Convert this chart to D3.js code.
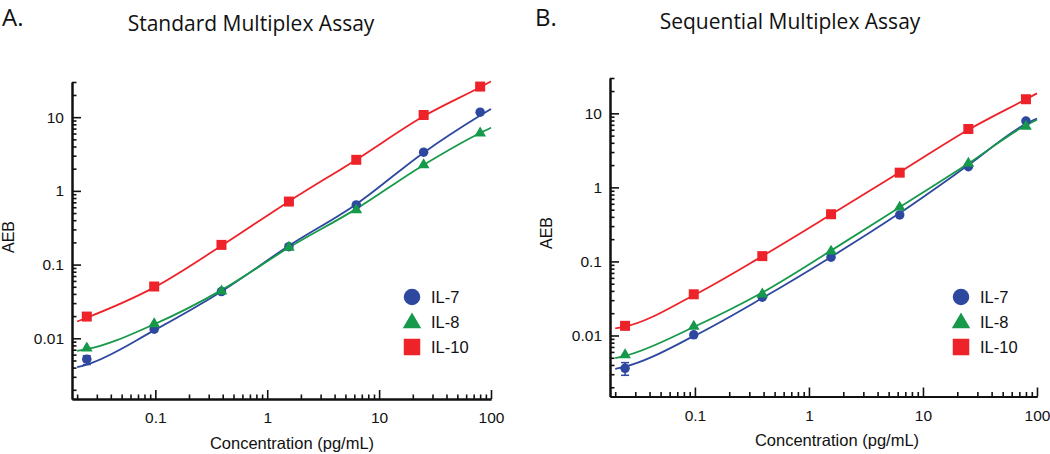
<!DOCTYPE html>
<html>
<head>
<meta charset="utf-8">
<script src="https://cdn.jsdelivr.net/npm/d3@7"></script>
<style>
  html, body { margin: 0; padding: 0; background: #fff; }
  svg { display: block; }
</style>
</head>
<body>
<svg id="chart" width="1050" height="454"></svg>
<script>
// ---------------- DATA ----------------
const concentrations = [0.0244, 0.0977, 0.39, 1.5625, 6.25, 25, 80];
const seriesNames = ["IL-7", "IL-8", "IL-10"];
const seriesColors = ["#2e48a0", "#16994a", "#ee2229"];
const seriesShapes = ["circle", "triangle", "square"];

// Panel A: Standard Multiplex Assay (measured points)
const stdIL7  = [0.0052, 0.0133, 0.043, 0.175, 0.645, 3.35, 11.7];
const stdIL8  = [0.0075, 0.016, 0.0445, 0.175, 0.565, 2.3, 6.2];
const stdIL10 = [0.0197, 0.0504, 0.185, 0.716, 2.64, 10.7, 26];
// error bar (low, high) for IL-7 at lowest concentration
const stdIL7ErrLo = [0.0044, null, null, null, null, null, null];
const stdIL7ErrHi = [0.0058, null, null, null, null, null, null];

// Panel B: Sequential Multiplex Assay (measured points)
const seqIL7  = [0.0036, 0.0102, 0.0329, 0.114, 0.425, 1.9, 7.87];
const seqIL8  = [0.0056, 0.0135, 0.037, 0.14, 0.55, 2.15, 6.8];
const seqIL10 = [0.0135, 0.036, 0.118, 0.434, 1.58, 6.14, 15.5];
const seqIL7ErrLo = [0.0029, null, null, null, null, null, null];
const seqIL7ErrHi = [0.0043, null, null, null, null, null, null];

// fitted curves
const fitX = [0.02, 0.0244, 0.0977, 0.39, 1.5625, 6.25, 25, 80, 100];
const stdFitIL7  = [0.00405, 0.0044, 0.0128, 0.043, 0.18, 0.66, 3.3, 10.5, 12.9];
const stdFitIL8  = [0.00675, 0.0071, 0.0155, 0.045, 0.17, 0.57, 2.25, 6.1, 7.2];
const stdFitIL10 = [0.0169, 0.019, 0.049, 0.18, 0.72, 2.65, 10.3, 25.5, 30.5];
const seqFitIL7  = [0.00355, 0.0038, 0.0098, 0.032, 0.115, 0.45, 2.0, 7.2, 8.5];
const seqFitIL8  = [0.00494, 0.0053, 0.013, 0.038, 0.14, 0.54, 2.1, 6.9, 8.2];
const seqFitIL10 = [0.0125, 0.0132, 0.035, 0.118, 0.43, 1.6, 6.0, 15.5, 18.6];

const xTickValues = [0.1, 1, 10, 100];
const xTickLabels = ["0.1", "1", "10", "100"];
const yTickValues = [0.01, 0.1, 1, 10];
const yTickLabels = ["0.01", "0.1", "1", "10"];
const xDomain = [0.018, 100];
const yDomain = [0.0015, 30];

const SANS = "'Liberation Sans', Arial, Helvetica, sans-serif";
const TITLE_FONT = "'Open Sans', 'Noto Sans', sans-serif";

const panels = [
  { letter: "A.", title: "Standard Multiplex Assay",
    left: 72, right: 491, top: 82, bottom: 399,
    letterX: 2, letterY: 26, titleX: 251, titleY: 31,
    yLabelX: 14, yLabelY: 237, xLabelX: 292, xLabelY: 449,
    points: [stdIL7, stdIL8, stdIL10], fits: [stdFitIL7, stdFitIL8, stdFitIL10],
    errLo: stdIL7ErrLo, errHi: stdIL7ErrHi,
    legendX: 412, legendY: 297 },
  { letter: "B.", title: "Sequential Multiplex Assay",
    left: 610, right: 1037, top: 78, bottom: 396.5,
    letterX: 535, letterY: 26, titleX: 790, titleY: 29,
    yLabelX: 552, yLabelY: 233, xLabelX: 837, xLabelY: 446,
    points: [seqIL7, seqIL8, seqIL10], fits: [seqFitIL7, seqFitIL8, seqFitIL10],
    errLo: seqIL7ErrLo, errHi: seqIL7ErrHi,
    legendX: 961, legendY: 297 }
];

const svg = d3.select("#chart");

function drawMarker(g, shape, cx, cy, color, size) {
  if (shape === "circle") {
    g.append("circle").attr("cx", cx).attr("cy", cy).attr("r", size * 0.5).attr("fill", color);
  } else if (shape === "square") {
    g.append("rect").attr("x", cx - size * 0.5).attr("y", cy - size * 0.5)
      .attr("width", size).attr("height", size).attr("fill", color);
  } else {
    const h = size * 0.95, w = size * 1.12;
    g.append("path")
      .attr("d", `M${cx},${cy - h * 0.6} L${cx + w / 2},${cy + h * 0.4} L${cx - w / 2},${cy + h * 0.4} Z`)
      .attr("fill", color);
  }
}

panels.forEach(p => {
  const x = d3.scaleLog().domain(xDomain).range([p.left, p.right]);
  const y = d3.scaleLog().domain(yDomain).range([p.bottom, p.top]);
  const g = svg.append("g");

  // titles
  g.append("text").attr("x", p.letterX).attr("y", p.letterY)
    .style("font-family", TITLE_FONT).style("font-size", "24px").style("fill", "#111").text(p.letter);
  g.append("text").attr("x", p.titleX).attr("y", p.titleY)
    .attr("text-anchor", "middle")
    .style("font-family", TITLE_FONT).style("font-size", "21px").style("fill", "#111").text(p.title);

  // minor tick values
  const xMinor = [];
  for (let e = -2; e <= 1; e++) for (let m = 2; m <= 9; m++) {
    const v = m * Math.pow(10, e);
    if (v >= xDomain[0] && v <= xDomain[1]) xMinor.push(v);
  }
  const yMinor = [];
  for (let e = -3; e <= 1; e++) for (let m = 2; m <= 9; m++) {
    const v = m * Math.pow(10, e);
    if (v >= yDomain[0] - 1e-9 && v <= yDomain[1] + 1e-9) yMinor.push(v);
  }

  // x axis (ticks inward)
  const xAxisMinor = d3.axisBottom(x).tickValues(xMinor).tickSize(-4.5).tickFormat("").tickSizeOuter(0);
  const xAxisMajor = d3.axisBottom(x).tickValues(xTickValues).tickSize(-9)
    .tickFormat((d, i) => xTickLabels[i]).tickSizeOuter(0).tickPadding(13);
  const gx1 = g.append("g").attr("transform", `translate(0,${p.bottom})`).call(xAxisMinor);
  const gx2 = g.append("g").attr("transform", `translate(0,${p.bottom})`).call(xAxisMajor);
  // y axis
  const yAxisMinor = d3.axisLeft(y).tickValues(yMinor).tickSize(-4.5).tickFormat("").tickSizeOuter(0);
  const yAxisMajor = d3.axisLeft(y).tickValues(yTickValues).tickSize(-9)
    .tickFormat((d, i) => yTickLabels[i]).tickSizeOuter(0).tickPadding(6);
  const gy1 = g.append("g").attr("transform", `translate(${p.left},0)`).call(yAxisMinor);
  const gy2 = g.append("g").attr("transform", `translate(${p.left},0)`).call(yAxisMajor);

  [gx1, gx2, gy1, gy2].forEach(a => {
    a.attr("font-family", null).attr("font-size", null);
    a.selectAll("path.domain").attr("stroke", "#111").attr("stroke-width", 2);
    a.selectAll(".tick line").attr("stroke", "#111").attr("stroke-width", 1.6);
    a.selectAll(".tick text")
      .style("font-family", SANS).style("font-size", "15.5px").style("fill", "#111");
  });
  gy2.selectAll(".tick text").attr("x", -8);

  // axis titles
  g.append("text")
    .attr("transform", `translate(${p.yLabelX},${p.yLabelY}) rotate(-90)`)
    .attr("text-anchor", "middle")
    .style("font-family", SANS).style("font-size", "16px").style("fill", "#111").text("AEB");
  g.append("text")
    .attr("x", p.xLabelX).attr("y", p.xLabelY)
    .attr("text-anchor", "middle")
    .style("font-family", SANS).style("font-size", "16.5px").style("fill", "#111").text("Concentration (pg/mL)");

  // fitted curves
  const line = d3.line().x(d => x(d[0])).y(d => y(d[1])).curve(d3.curveMonotoneX);
  p.fits.forEach((fit, si) => {
    g.append("path").datum(fitX.map((xv, i) => [xv, fit[i]]))
      .attr("d", line).attr("fill", "none")
      .attr("stroke", seriesColors[si]).attr("stroke-width", 1.8);
  });

  // error bars (IL-7)
  concentrations.forEach((c, i) => {
    if (p.errLo[i] == null) return;
    const cx = x(c), y1 = y(p.errLo[i]), y2 = y(p.errHi[i]);
    g.append("line").attr("x1", cx).attr("x2", cx).attr("y1", y1).attr("y2", y2)
      .attr("stroke", seriesColors[0]).attr("stroke-width", 1.5);
    [y1, y2].forEach(yy => g.append("line").attr("x1", cx - 4).attr("x2", cx + 4)
      .attr("y1", yy).attr("y2", yy).attr("stroke", seriesColors[0]).attr("stroke-width", 1.5));
  });

  // points
  p.points.forEach((vals, si) => {
    vals.forEach((v, i) => {
      const size = seriesShapes[si] === "square" ? 10 : (seriesShapes[si] === "circle" ? 9.5 : 10.5);
      drawMarker(g, seriesShapes[si], x(concentrations[i]), y(v), seriesColors[si], size);
    });
  });

  // legend
  seriesNames.forEach((name, si) => {
    const ly = p.legendY + si * 25;
    drawMarker(g, seriesShapes[si], p.legendX, ly, seriesColors[si], 16.5);
    g.append("text").attr("x", p.legendX + 19).attr("y", ly + 6)
      .style("font-family", SANS).style("font-size", "16.5px").style("fill", "#111").text(name);
  });
});
</script>
</body>
</html>
